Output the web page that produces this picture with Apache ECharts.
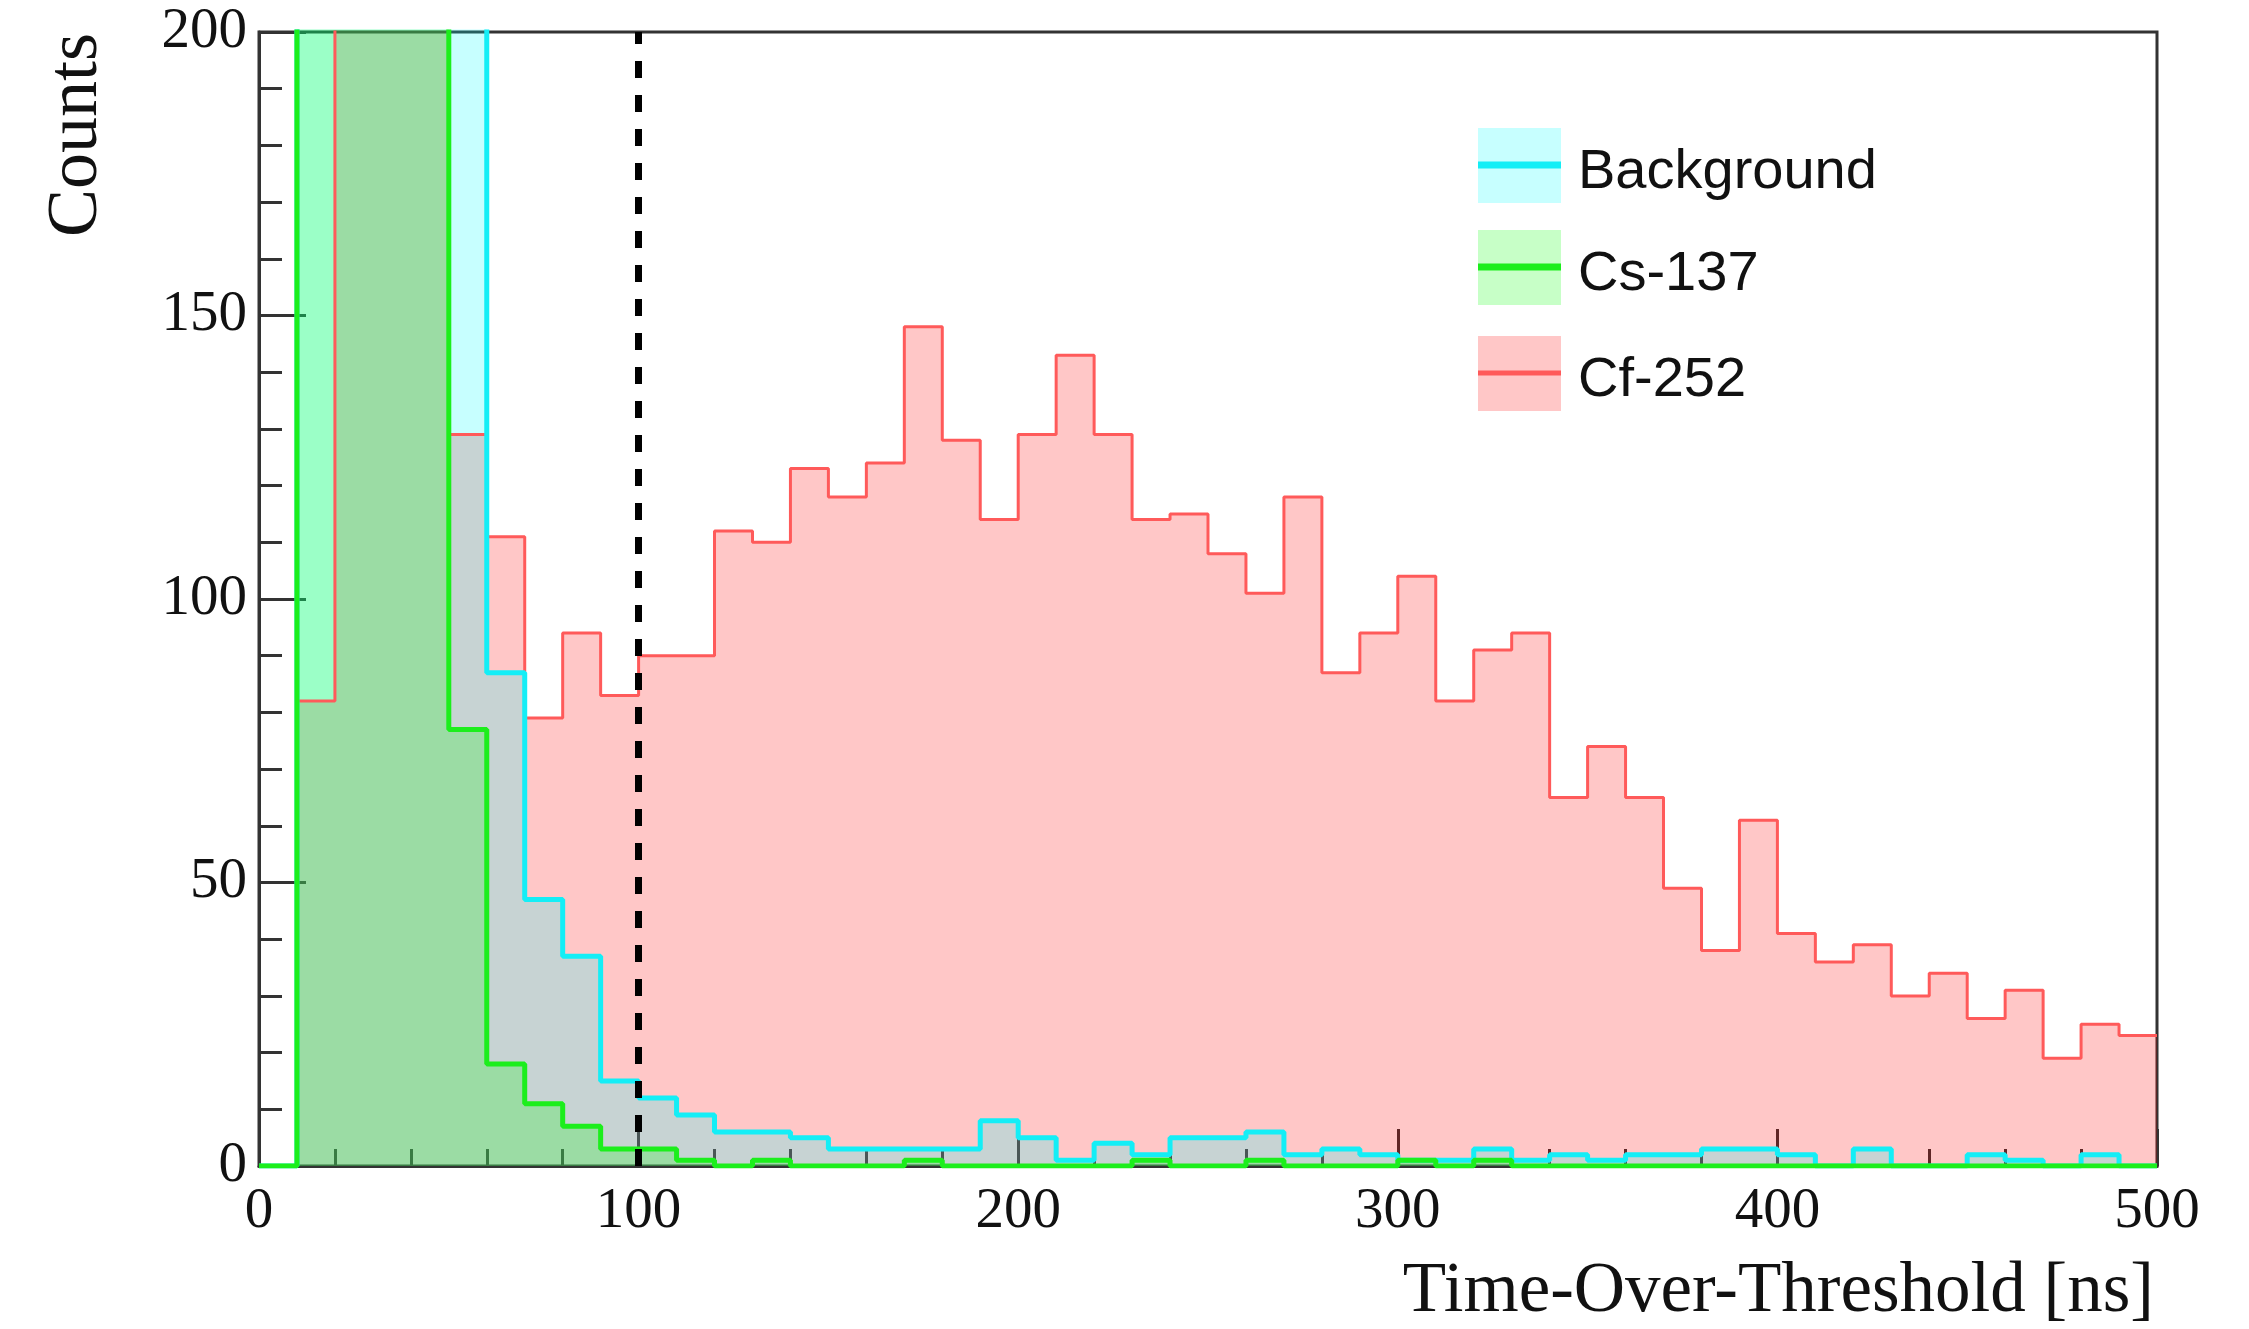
<!DOCTYPE html>
<html>
<head>
<meta charset="utf-8">
<title>Time-Over-Threshold</title>
<script src="https://cdn.jsdelivr.net/npm/echarts@6/dist/echarts.min.js"></script>
<style>
    html, body { margin: 0; padding: 0; background: #fff; }
    #chart { width: 2249px; height: 1329px; }
</style>
</head>
<body>
<div id="chart"></div>
<script>
    // histogram binning: 10 ns bins from 0 to 500 ns
    const binWidth = 10
    const xTicks = [0, 100, 200, 300, 400, 500]
    const yTicks = [0, 50, 100, 150, 200]
    const cutValue = 100 // dashed threshold line

    const seriesNames = ['Background', 'Cs-137', 'Cf-252']

    // counts per bin (bins 10-50 run off the top of the plot, 230 = off-scale)
    const background = [
        0, 230, 230, 230, 230, 230, 87, 47, 37, 15,
        12, 9, 6, 6, 5, 3, 3, 3, 3, 8,
        5, 1, 4, 2, 5, 5, 6, 2, 3, 2,
        1, 1, 3, 1, 2, 1, 2, 2, 3, 3,
        2, 0, 3, 0, 0, 2, 1, 0, 2, 0
    ]
    const cs137 = [
        0, 230, 230, 230, 230, 77, 18, 11, 7, 3,
        3, 1, 0, 1, 0, 0, 0, 1, 0, 0,
        0, 0, 0, 1, 0, 0, 1, 0, 0, 0,
        1, 0, 1, 0, 0, 0, 0, 0, 0, 0,
        0, 0, 0, 0, 0, 0, 0, 0, 0, 0
    ]
    const cf252 = [
        0, 82, 230, 230, 230, 129, 111, 79, 94, 83,
        90, 90, 112, 110, 123, 118, 124, 148, 128, 114,
        129, 143, 129, 114, 115, 108, 101, 118, 87, 94,
        104, 82, 91, 94, 65, 74, 65, 49, 38, 61,
        41, 36, 39, 30, 34, 26, 31, 19, 25, 23
    ]

    const colors = {
        'Background': { line: '#14eef6', fill: 'rgb(0,255,255)', width: 5 },
        'Cs-137': { line: '#1cee1c', fill: 'rgb(0,255,0)', width: 5 },
        'Cf-252': { line: '#ff5a5a', fill: 'rgb(255,0,0)', width: 3 }
    }
    const fillOpacity = 0.22

    // left edge of each bin + closing point at the right edge of the last bin
    function toSteps(counts) {
        const pts = counts.map((v, i) => [i * binWidth, v])
        pts.push([counts.length * binWidth, counts[counts.length - 1]])
        return pts
    }

    function histSeries(name, counts) {
        const c = colors[name]
        return {
            name: name,
            type: 'line',
            step: 'end',
            data: toSteps(counts),
            showSymbol: false,
            symbol: 'none',
            clip: true,
            lineStyle: { color: c.line, width: c.width },
            itemStyle: { color: c.line },
            areaStyle: { color: c.fill, opacity: fillOpacity }
        }
    }

    const serif = '"Liberation Serif", "DejaVu Serif", serif'
    const sans = '"Liberation Sans", Arial, sans-serif'

    // legend drawn as boxes with a line through (ROOT style)
    const legendX = 1478
    const legendTops = [128, 230, 336]
    const legendItems = []
    seriesNames.forEach((name, i) => {
        const c = colors[name]
        const top = legendTops[i]
        legendItems.push({
            type: 'rect',
            shape: { x: legendX, y: top, width: 83, height: 75 },
            style: { fill: c.fill, opacity: fillOpacity }
        })
        legendItems.push({
            type: 'line',
            shape: { x1: legendX, y1: top + 37, x2: legendX + 83, y2: top + 37 },
            style: { stroke: c.line, lineWidth: c.width + 2 }
        })
        legendItems.push({
            type: 'text',
            x: legendX + 100,
            y: top + 45,
            style: {
                text: name,
                font: '56px ' + sans,
                fill: '#111',
                textAlign: 'left',
                textVerticalAlign: 'middle'
            }
        })
    })

    const chart = echarts.init(document.getElementById('chart'))

    chart.setOption({
        animation: false,
        backgroundColor: '#fff',
        grid: {
            left: 259,
            right: 92,
            top: 32,
            bottom: 163,
            show: true,
            borderColor: '#333',
            borderWidth: 3,
            backgroundColor: 'transparent'
        },
        xAxis: {
            type: 'value',
            min: xTicks[0],
            max: xTicks[xTicks.length - 1],
            interval: xTicks[1] - xTicks[0],
            axisLine: { show: true, lineStyle: { color: '#333', width: 3 } },
            axisTick: { show: true, inside: true, length: 37, lineStyle: { color: '#333', width: 3 } },
            minorTick: { show: true, splitNumber: 5, length: 17, lineStyle: { color: '#333', width: 3 } },
            splitLine: { show: false },
            axisLabel: {
                color: '#111',
                fontFamily: serif,
                fontSize: 57,
                margin: 18
            }
        },
        yAxis: {
            type: 'value',
            min: yTicks[0],
            max: yTicks[yTicks.length - 1],
            interval: yTicks[1] - yTicks[0],
            axisLine: { show: true, lineStyle: { color: '#333', width: 3 } },
            axisTick: { show: true, inside: true, length: 47, lineStyle: { color: '#333', width: 3 } },
            minorTick: { show: true, splitNumber: 5, length: 23, lineStyle: { color: '#333', width: 3 } },
            splitLine: { show: false },
            axisLabel: {
                color: '#111',
                fontFamily: serif,
                fontSize: 57,
                margin: 12
            }
        },
        graphic: [
            {
                type: 'text',
                x: 2154,
                y: 1292,
                style: {
                    text: 'Time-Over-Threshold [ns]',
                    font: '71px ' + serif,
                    fill: '#111',
                    textAlign: 'right',
                    textVerticalAlign: 'middle'
                }
            },
            {
                type: 'text',
                x: 77,
                y: 33,
                rotation: Math.PI / 2,
                style: {
                    text: 'Counts',
                    font: '72px ' + serif,
                    fill: '#111',
                    textAlign: 'right',
                    textVerticalAlign: 'middle'
                }
            }
        ].concat(legendItems),
        series: [
            histSeries('Cf-252', cf252),
            histSeries('Background', background),
            Object.assign(histSeries('Cs-137', cs137), {
                markLine: {
                    silent: true,
                    symbol: 'none',
                    label: { show: false },
                    lineStyle: { color: '#000', width: 7, type: [17, 17] },
                    data: [{ xAxis: cutValue }]
                }
            })
        ]
    })
</script>
</body>
</html>
